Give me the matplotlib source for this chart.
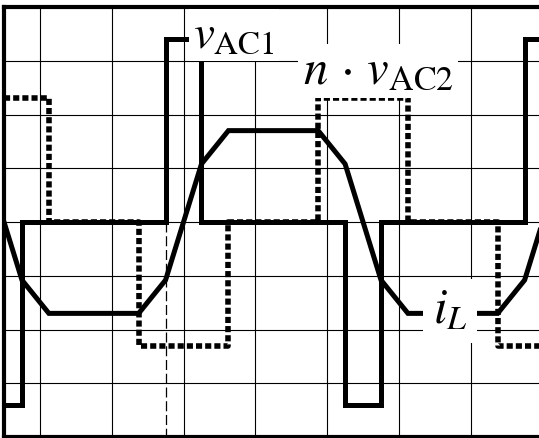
import numpy as np
import matplotlib.pyplot as plt

plt.rcParams['mathtext.fontset'] = 'stix'
plt.rcParams['font.family'] = 'STIXGeneral'

# switching instants (in grid columns) and the level held after each one
vac1_t = [-0.5, -0.25, 1.75, 2.25, 4.25, 4.75, 6.75, 7.0]
vac1_v = [-3.4, 0.0, 3.4, 0.0, -3.4, 0.0, 3.4, 3.4]

vac2_t = [-0.5, 0.125, 1.375, 2.625, 3.875, 5.125, 6.375, 7.0]
vac2_v = [2.3, 0.0, -2.3, 0.0, 2.3, 0.0, -2.3, -2.3]

# inductor current corner points
il_t = [-0.75, -0.25, 0.125, 1.375, 1.75, 2.25, 2.625, 3.875, 4.25, 4.75, 5.125, 6.375, 6.75, 7.25]
il_v = [1.08, -1.08, -1.7, -1.7, -1.08, 1.08, 1.7, 1.7, 1.08, -1.08, -1.7, -1.7, -1.08, 1.08]

marker_t = 1.75

fig = plt.figure(figsize=(5.39, 4.39), dpi=100)
ax = fig.add_axes([4/539, 1/439, 535/539, 430/439])
ax.set_xlim(-0.5, 6.95)
ax.set_ylim(-4, 4)

ax.set_xticks(np.arange(0, 7))
ax.set_yticks(np.arange(-3, 4))
ax.tick_params(length=0, labelbottom=False, labelleft=False)
ax.grid(True, color='black', lw=0.8)
ax.set_axisbelow(True)

for side in ['left', 'top', 'bottom']:
    ax.spines[side].set_linewidth(3)
ax.spines['right'].set_visible(False)

ax.plot(vac2_t, vac2_v, drawstyle='steps-post', color='black', lw=4,
        linestyle=(0, (1.1, 0.55)), dash_capstyle='butt', zorder=3)
ax.plot(vac1_t, vac1_v, drawstyle='steps-post', color='black', lw=3.6,
        solid_joinstyle='miter', zorder=4)
ax.plot(il_t, il_v, color='black', lw=3.6, solid_joinstyle='miter', zorder=4)
ax.plot([marker_t, marker_t], [0, -4], color='black', lw=0.9,
        linestyle=(0, (8, 3)), zorder=2)

box = dict(facecolor='white', edgecolor='none', pad=3)
ax.text(2.70, 3.48, r'$v_{\mathrm{AC1}}$', fontsize=34, ha='center', va='center',
        bbox=box, zorder=6)
ax.text(4.71, 2.81, r'$n\,\cdot\,v_{\mathrm{AC2}}$', fontsize=35, ha='center', va='center',
        bbox=box, zorder=6)
ax.text(5.71, -1.65, r'$i_L$', fontsize=35, ha='center', va='center',
        bbox=dict(facecolor='white', edgecolor='none', pad=7), zorder=6)

fig.savefig('out.png', dpi=100)
